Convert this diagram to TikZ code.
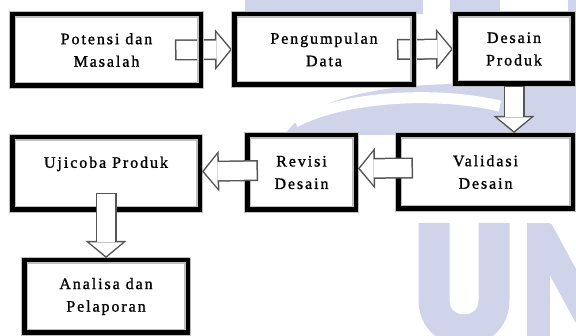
\documentclass[tikz,border=0pt]{standalone}
\usepackage{fontspec}
\setmainfont{Liberation Serif}[LetterSpace=12.0,FakeBold=1.2]
\usetikzlibrary{arrows.meta,backgrounds}
\definecolor{wmark}{HTML}{CFD4EA}
\definecolor{arrowgray}{HTML}{555555}

\begin{document}
\begin{tikzpicture}[x=1pt, y=-1pt, every node/.style={font=\fontsize{16}{22.5}\selectfont}]
    \tikzset{flowstep/.style={draw=black,line width=4.5pt,align=center,inner sep=0pt,preaction={draw=black!25,line width=7pt}},
      arrowedge/.style={draw=arrowgray,line width=21pt,-{Triangle[length=17pt,width=41pt,line width=0pt]}},
      arrowfill/.style={draw=white,line width=18pt,-{Triangle[length=13.5pt,width=33pt,line width=0pt]},shorten >=2pt,shorten <=1.5pt}}
    \useasboundingbox (0,0) rectangle (576,336);
    \node[flowstep,minimum width=188.5pt,minimum height=71.5pt] (pot) at (106.5,50) {Potensi dan\\Masalah};
    \node[flowstep,minimum width=179.5pt,minimum height=70.5pt] (data) at (324,49.5) {Pengumpulan\\Data};
    \node[flowstep,minimum width=117.5pt,minimum height=69.5pt] (desain) at (514,49) {Desain\\Produk};
    \node[flowstep,minimum width=174.5pt,minimum height=73.5pt] (valid) at (485.5,172) {Validasi\\Desain};
    \node[flowstep,minimum width=108.5pt,minimum height=74.5pt] (revisi) at (301.5,172.5) {Revisi\\Desain};
    \node[flowstep,minimum width=187.5pt,minimum height=72.5pt] (uji) at (106,173.5) {Ujicoba Produk\\~};
    \node[flowstep,minimum width=163.5pt,minimum height=72.5pt] (lapor) at (106,296.5) {Analisa dan\\Pelaporan};
    % watermark and the first two arrows behind the boxes
    \begin{scope}[on background layer]
      \clip (0,0) rectangle (576,336);
      \fill[wmark] (245,0) rectangle (423,14);
      \fill[wmark] (450,0) rectangle (500,14);
      \fill[wmark] (568,0) rectangle (576,14);
      \fill[wmark] (285,135) .. controls (305,100) and (380,84) .. (460,84) -- (576,84) -- (576,135) -- cycle;
      \draw[white,line width=11pt] (295,122) .. controls (340,98) and (430,90) .. (500,106);
      \draw[wmark,line width=31pt] (434,223) -- (434,300) .. controls (434,340) and (494,340) .. (494,300) -- (494,223);
      \draw[wmark,line width=23pt] (538,223) -- (538,340);
      \draw[wmark,line width=26pt] (540,230) -- (600,340);
      \draw[arrowedge] ([xshift=-28pt]pot.east) -- (data.west);
      \draw[arrowfill] ([xshift=-28pt]pot.east) -- (data.west);
      \draw[arrowedge] ([xshift=-19pt]data.east) -- (desain.west);
      \draw[arrowfill] ([xshift=-19pt]data.east) -- (desain.west);
    \end{scope}
    \draw[arrowedge] (desain.south) -- (desain.south |- valid.north);
    \draw[arrowfill] (desain.south) -- (desain.south |- valid.north);
    \draw[arrowedge] ([xshift=17pt,yshift=4pt]valid.west) -- ([yshift=4pt]revisi.east);
    \draw[arrowfill] ([xshift=17pt,yshift=4pt]valid.west) -- ([yshift=4pt]revisi.east);
    \draw[arrowedge] ([xshift=13pt,yshift=2pt]revisi.west) -- ([yshift=2pt]uji.east);
    \draw[arrowfill] ([xshift=13pt,yshift=2pt]revisi.west) -- ([yshift=2pt]uji.east);
    \draw[arrowedge] ([yshift=19pt]uji.south) -- (lapor.north);
    \draw[arrowfill] ([yshift=19pt]uji.south) -- (lapor.north);
  \end{tikzpicture}
\end{document}
